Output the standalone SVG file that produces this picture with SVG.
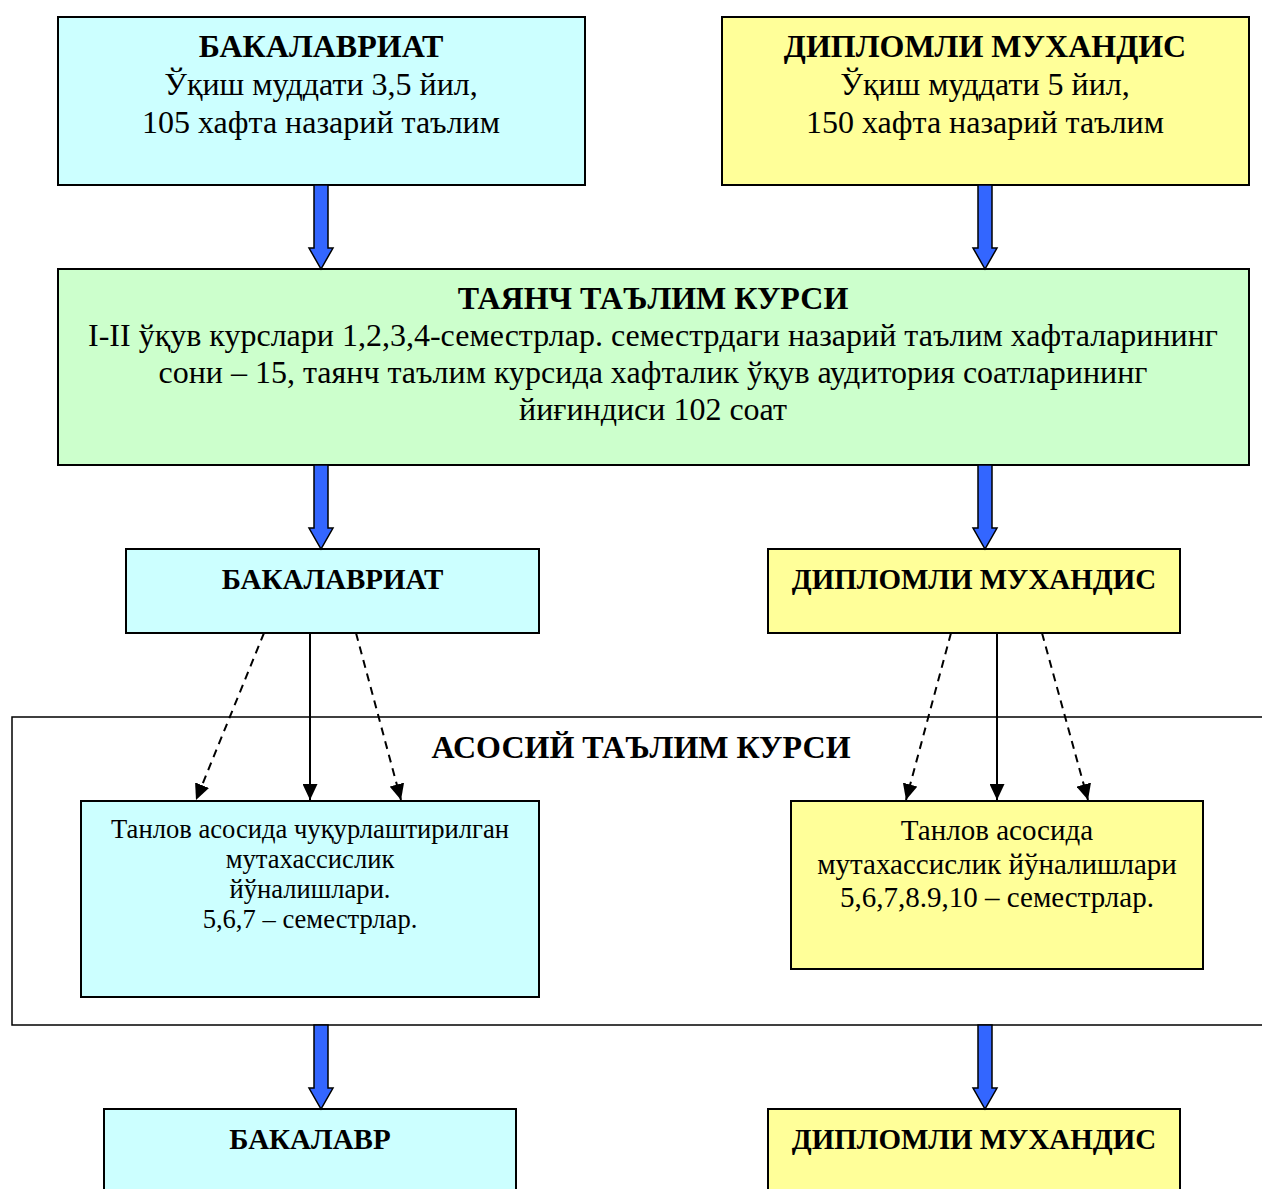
<svg xmlns="http://www.w3.org/2000/svg" width="1262" height="1189" viewBox="0 0 1262 1189">
<style>
.box{stroke:#000;stroke-width:2}
.cy{fill:#CCFFFF}.ye{fill:#FFFF99}.gr{fill:#CCFFCC}
text{font-family:"Liberation Serif","Times New Roman",serif;fill:#000;text-anchor:middle}
.b{font-weight:bold}
.f32{font-size:32px}.f29{font-size:29px}.f26{font-size:26.6px}
.blk{fill:#3366FF;stroke:#000;stroke-width:1.5;stroke-linejoin:miter}
.ln{stroke:#000;stroke-width:2;fill:none}
.dash{stroke-dasharray:8 6}
</style>
<defs>
<marker id="ah" markerUnits="userSpaceOnUse" markerWidth="17" markerHeight="15" refX="16" refY="7.5" orient="auto" viewBox="0 0 17 15">
<path d="M0,0 L16,7.5 L0,15 z" fill="#000"/>
</marker>
</defs>
<rect width="1262" height="1189" fill="#fff"/>

<g id="container-asosiy">
<rect x="12" y="717" width="1260" height="308" fill="none" stroke="#000" stroke-width="1.5"/>
<text class="b f32" x="641" y="758">АСОСИЙ ТАЪЛИМ КУРСИ</text>
</g>

<g id="node-bak-top">
<rect class="box cy" x="58" y="17" width="527" height="168"/>
<text class="b f32" x="321" y="57">БАКАЛАВРИАТ</text>
<text class="f32" x="321" y="95">Ўқиш муддати 3,5 йил,</text>
<text class="f32" x="321" y="133">105 хафта назарий таълим</text>
</g>

<g id="node-dip-top">
<rect class="box ye" x="722" y="17" width="527" height="168"/>
<text class="b f32" x="985" y="57">ДИПЛОМЛИ МУХАНДИС</text>
<text class="f32" x="985" y="95">Ўқиш муддати 5 йил,</text>
<text class="f32" x="985" y="133">150 хафта назарий таълим</text>
</g>

<g id="node-tayanch">
<rect class="box gr" x="58" y="269" width="1191" height="196"/>
<text class="b f32" x="653" y="309">ТАЯНЧ ТАЪЛИМ КУРСИ</text>
<text class="f32" x="653" y="346">I-II ўқув курслари 1,2,3,4-семестрлар. семестрдаги назарий таълим хафталарининг</text>
<text class="f32" x="653" y="383">сони – 15, таянч таълим курсида хафталик ўқув аудитория соатларининг</text>
<text class="f32" x="653" y="420">йиғиндиси 102 соат</text>
</g>

<g id="node-bak-mid">
<rect class="box cy" x="126" y="549" width="413" height="84"/>
<text class="b f29" x="332.5" y="589">БАКАЛАВРИАТ</text>
</g>

<g id="node-dip-mid">
<rect class="box ye" x="768" y="549" width="412" height="84"/>
<text class="b f29" x="974" y="589">ДИПЛОМЛИ МУХАНДИС</text>
</g>

<g id="node-bak-low">
<rect class="box cy" x="81" y="801" width="458" height="196"/>
<text class="f26" x="310" y="838">Танлов асосида чуқурлаштирилган</text>
<text class="f26" x="310" y="868">мутахассислик</text>
<text class="f26" x="310" y="898">йўналишлари.</text>
<text class="f26" x="310" y="928">5,6,7 – семестрлар.</text>
</g>

<g id="node-dip-low">
<rect class="box ye" x="791" y="801" width="412" height="168"/>
<text class="f29" x="997" y="840">Танлов асосида</text>
<text class="f29" x="997" y="874">мутахассислик йўналишлари</text>
<text class="f29" x="997" y="907">5,6,7,8.9,10 – семестрлар.</text>
</g>

<g id="node-bakalavr">
<rect class="box cy" x="104" y="1109" width="412" height="90"/>
<text class="b f29" x="310" y="1149">БАКАЛАВР</text>
</g>

<g id="node-dip-bottom">
<rect class="box ye" x="768" y="1109" width="412" height="90"/>
<text class="b f29" x="974" y="1149">ДИПЛОМЛИ МУХАНДИС</text>
</g>

<g id="connectors">
<polygon class="blk" points="314,185 328,185 328,248 333,248 321,269 309,248 314,248"/>
<polygon class="blk" points="978,185 992,185 992,248 997,248 985,269 973,248 978,248"/>
<polygon class="blk" points="314,465 328,465 328,528 333,528 321,549 309,528 314,528"/>
<polygon class="blk" points="978,465 992,465 992,528 997,528 985,549 973,528 978,528"/>
<polygon class="blk" points="314,1025 328,1025 328,1088 333,1088 321,1109 309,1088 314,1088"/>
<polygon class="blk" points="978,1025 992,1025 992,1088 997,1088 985,1109 973,1088 978,1088"/>

<line class="ln dash" x1="264" y1="633" x2="196" y2="800" marker-end="url(#ah)"/>
<line class="ln" x1="310" y1="633" x2="310" y2="800" marker-end="url(#ah)"/>
<line class="ln dash" x1="356" y1="633" x2="401" y2="800" marker-end="url(#ah)"/>

<line class="ln dash" x1="951" y1="633" x2="906" y2="800" marker-end="url(#ah)"/>
<line class="ln" x1="997" y1="633" x2="997" y2="800" marker-end="url(#ah)"/>
<line class="ln dash" x1="1042" y1="633" x2="1088" y2="800" marker-end="url(#ah)"/>
</g>
</svg>
